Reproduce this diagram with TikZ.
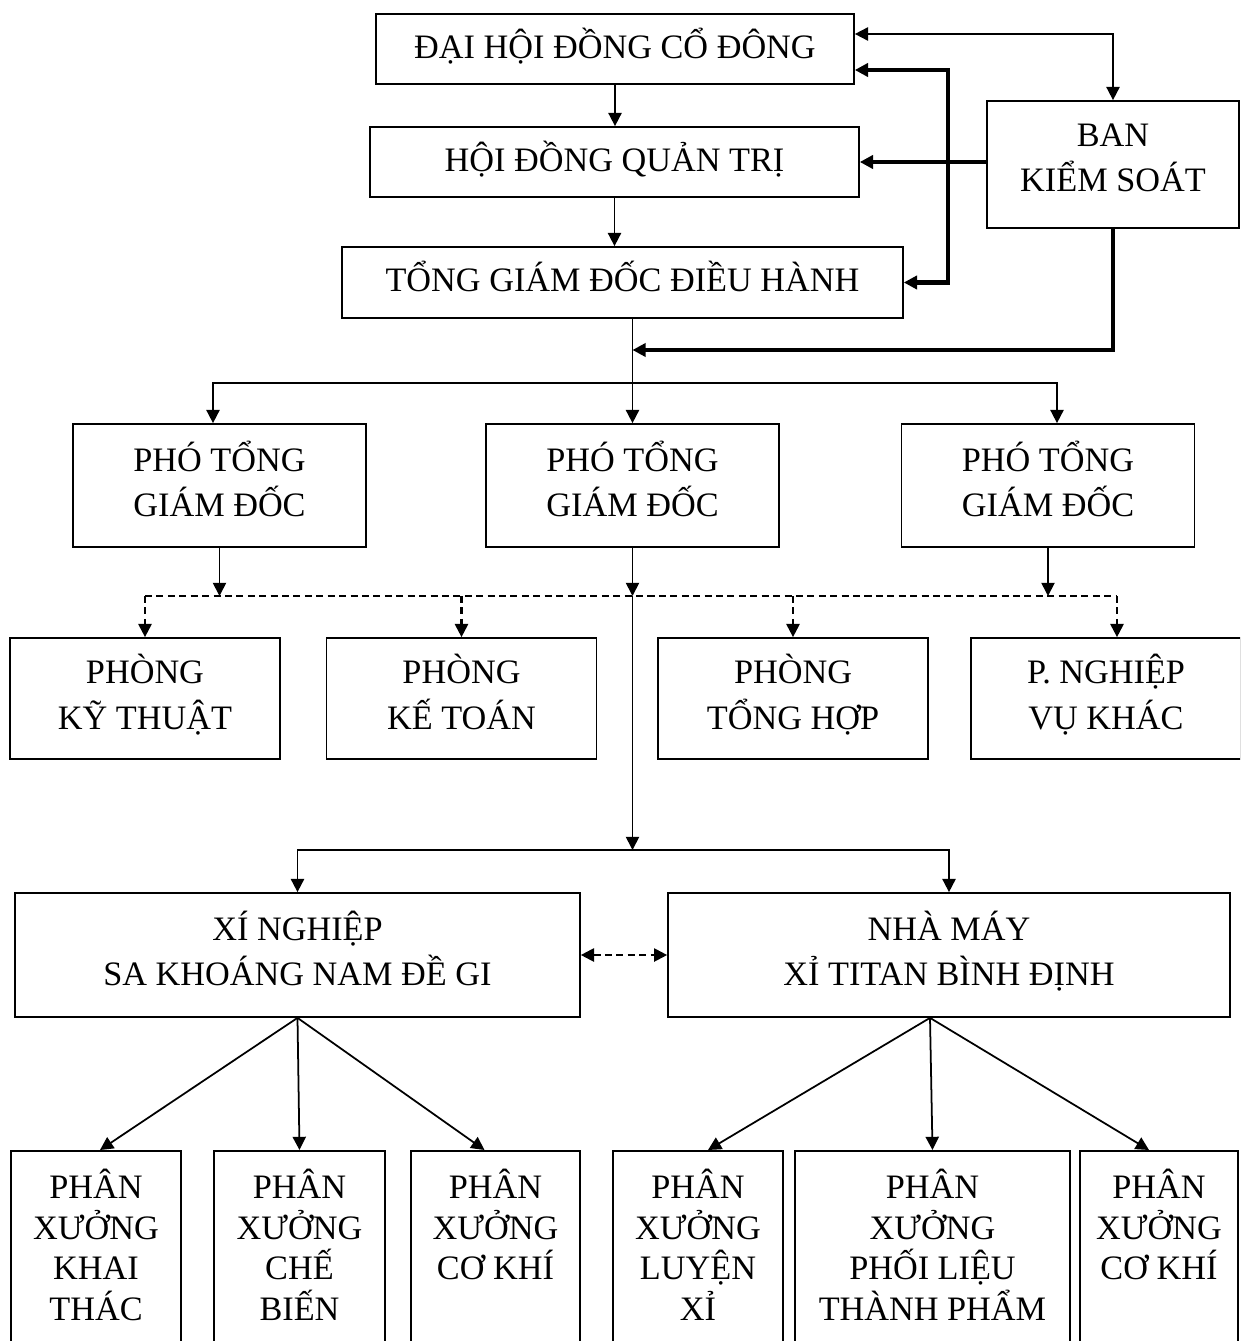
\documentclass[tikz,border=0pt]{standalone}
\usepackage{fontspec}
\setmainfont{Liberation Serif}
\usetikzlibrary{arrows.meta}
\tikzset{%
	org box/.style={
		rectangle,
		draw=black,
		line width=1pt,
		align=center,
		font=\fontsize{19.5}{26}\selectfont,
		execute at begin node=\strut,
		execute at end node=\strut
	},
	shop box/.style={
		org box,
		anchor=north,
		minimum height=4cm,
		font=\fontsize{19.5}{23}\selectfont
	},
	link/.style={line width=1pt},
	heavy link/.style={line width=2.4pt},
	dash link/.style={line width=1.2pt, dash pattern=on 4pt off 2.5pt},
	>={Triangle[length=7.5pt,width=7.5pt]}
}
\begin{document}
\begin{tikzpicture}[x=0.02cm, y=-0.02cm]
		\clip (0,0) rectangle (1240,1341);
		% Layers
		\node[org box, minimum width=9.56cm, minimum height=1.4cm] (dhdcd) at (615,49) {ĐẠI HỘI ĐỒNG CỔ ĐÔNG};
		\node[org box, minimum width=9.78cm, minimum height=1.4cm] (hdqt) at (614.5,162) {HỘI ĐỒNG QUẢN TRỊ};
		\node[org box, minimum width=11.22cm, minimum height=1.42cm] (tgd) at (622.5,282.5) {TỔNG GIÁM ĐỐC ĐIỀU HÀNH};
		\node[org box, minimum width=5.04cm, minimum height=2.54cm] (bks) at (1113,164.5) {BAN\\KIỂM SOÁT};
		
		\foreach \x [count=\i] in {219.5,632.5,1048}
		\node[org box, minimum width=5.86cm, minimum height=2.46cm] (pho-\i) at (\x,485.5) {PHÓ TỔNG\\GIÁM ĐỐC};
		
		\foreach \x/\t [count=\i] in {145/{PHÒNG\\KỸ THUẬT},461.5/{PHÒNG\\KẾ TOÁN},793/{PHÒNG\\TỔNG HỢP},1106/{P. NGHIỆP\\VỤ KHÁC}}
		\node[org box, minimum width=5.4cm, minimum height=2.42cm] (dept-\i) at (\x,698.5) {\t};
		
		\node[org box, minimum width=11.3cm, minimum height=2.48cm] (xn) at (297.5,955) {XÍ NGHIỆP\\SA KHOÁNG NAM ĐỀ GI};
		\node[org box, minimum width=11.24cm, minimum height=2.48cm] (nm) at (949,955) {NHÀ MÁY\\XỈ TITAN BÌNH ĐỊNH};
		
		\foreach \x/\w/\t [count=\i] in {96/3.4/{PHÂN\\XƯỞNG\\KHAI\\THÁC},299.5/3.42/{PHÂN\\XƯỞNG\\CHẾ\\BIẾN},495.5/3.38/{PHÂN\\XƯỞNG\\CƠ KHÍ\\\mbox{}},698/3.4/{PHÂN\\XƯỞNG\\LUYỆN\\XỈ},932.5/5.5/{PHÂN\\XƯỞNG\\PHỐI LIỆU\\THÀNH PHẨM},1159/3.16/{PHÂN\\XƯỞNG\\CƠ KHÍ\\\mbox{}}}
		\node[shop box, minimum width=\w cm] (px-\i) at (\x,1150) {\t};
		
		%Edges
		\coordinate (ks-bus) at (948,162);
		\coordinate (ks-y) at (0,350);
		\coordinate (top-y) at (0,383);
		\coordinate (dash-y) at (0,596);
		\coordinate (low-y) at (0,850);
		
		\draw[link,<->] ([yshift=0.3cm]dhdcd.east) -| (bks.north);
		\draw[link,->] (dhdcd.south) -- (dhdcd.south |- hdqt.north);
		\draw[link,->] (hdqt.south) -- (hdqt.south |- tgd.north);
		\draw[heavy link,->] (bks.west |- hdqt.east) -- (hdqt.east);
		\draw[heavy link,<->] ([yshift=-0.42cm]dhdcd.east) -| (ks-bus) |- (tgd.east);
		\draw[heavy link,->] (bks.south) |- (pho-2.north |- ks-y);
		
		\draw[link,->] (tgd.south -| pho-2.north) -- (pho-2.north);
		\draw[link,->] (pho-2.north |- top-y) -| ([xshift=-0.13cm]pho-1.north);
		\draw[link,->] (pho-2.north |- top-y) -| ([xshift=0.18cm]pho-3.north);
		
		\foreach \i in {1,2,3}
		\draw[link,->] (pho-\i.south) -- (pho-\i.south |- dash-y);
		\draw[dash link] (dept-1.north |- dash-y) -- ([xshift=0.22cm]dept-4.north |- dash-y);
		\foreach \i/\s in {1/0,2/0,3/0,4/0.22}
		\draw[dash link,->] ([xshift=\s cm]dept-\i.north |- dash-y) -- ([xshift=\s cm]dept-\i.north);
		
		\draw[link,->] (pho-2.south |- dash-y) -- (pho-2.south |- low-y);
		\draw[link,->] (pho-2.south |- low-y) -| (xn.north);
		\draw[link,->] (pho-2.south |- low-y) -| (nm.north);
		\draw[dash link,<->] (xn.east) -- (nm.west);
		
		\foreach \i/\s in {1/0.08,2/0,3/-0.22}
		\draw[link,->] (xn.south) -- ([xshift=\s cm]px-\i.north);
		\foreach \i/\s in {4/0.2,5/0,6/-0.2}
		\draw[link,->] ([xshift=-0.38cm]nm.south) -- ([xshift=\s cm]px-\i.north);
		
\end{tikzpicture}
\end{document}
